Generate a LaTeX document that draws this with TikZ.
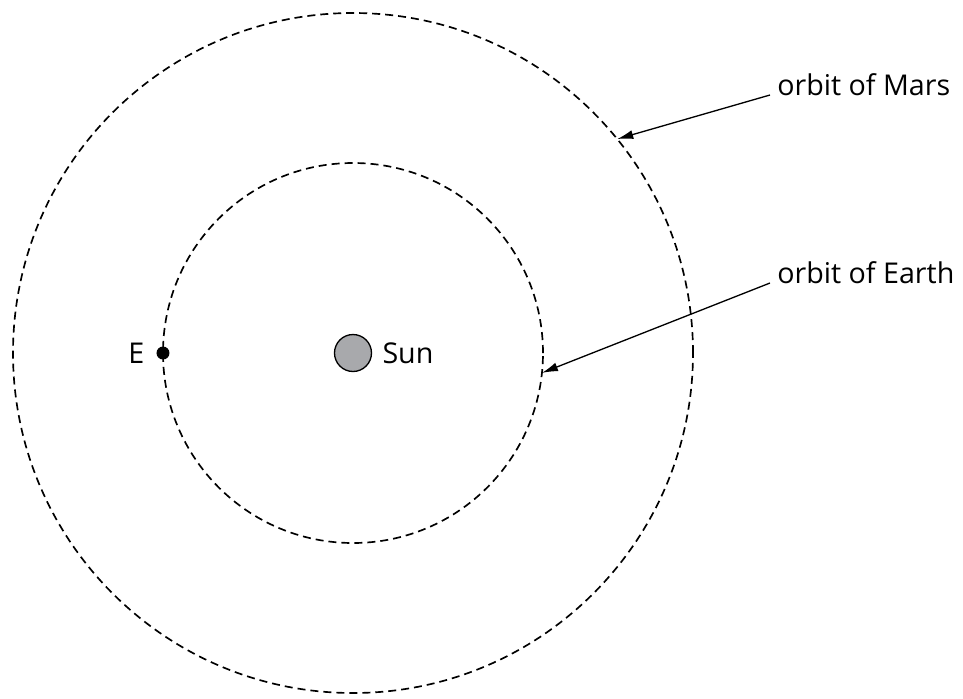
\documentclass[tikz,border=0pt]{standalone}
\usepackage{fontspec}
\setmainfont{Open Sans}
\usetikzlibrary{positioning,arrows.meta}
\definecolor{SunGrey}{RGB}{168,169,172}

\begin{document}
\begin{tikzpicture}[x=0.02cm,y=0.02cm,>={Latex[length=0.32cm,width=0.18cm]},
    orbit/.style={draw,line width=0.95pt,dash pattern=on 0.16cm off 0.1cm},
    lbl/.style={font=\fontsize{16.3}{20}\selectfont,inner sep=0},
    pointer/.style={->,line width=0.75pt}]
      \useasboundingbox (-353,-345) rectangle (610,353);
      \node[draw,fill=SunGrey,circle,line width=0.75pt,minimum size=0.74cm,inner sep=0] (sun) at (0,0) {};
      \node[lbl,right=0.2cm of sun] (sunlbl) {Sun};
      \draw[orbit] (sun.center) circle[radius=190];
      \draw[orbit] (sun.center) circle[radius=340];
      \node[fill,circle,minimum size=0.26cm,inner sep=0] (earth) at (-190,0) {};
      \node[lbl,left=0.23cm of earth] (elbl) {E};
      \coordinate (marsorbit) at (39:340);
      \coordinate (earthorbit) at (-6:190);
      \node[lbl,anchor=base west,inner xsep=0.14cm] (marslbl) at (417,258) {orbit of Mars};
      \node[lbl,anchor=base west,inner xsep=0.14cm] (earthlbl) at (417,70) {orbit of Earth};
      \draw[pointer] (marslbl.base west) -- (marsorbit);
      \draw[pointer] (earthlbl.base west) -- (earthorbit);
    \end{tikzpicture}
\end{document}
